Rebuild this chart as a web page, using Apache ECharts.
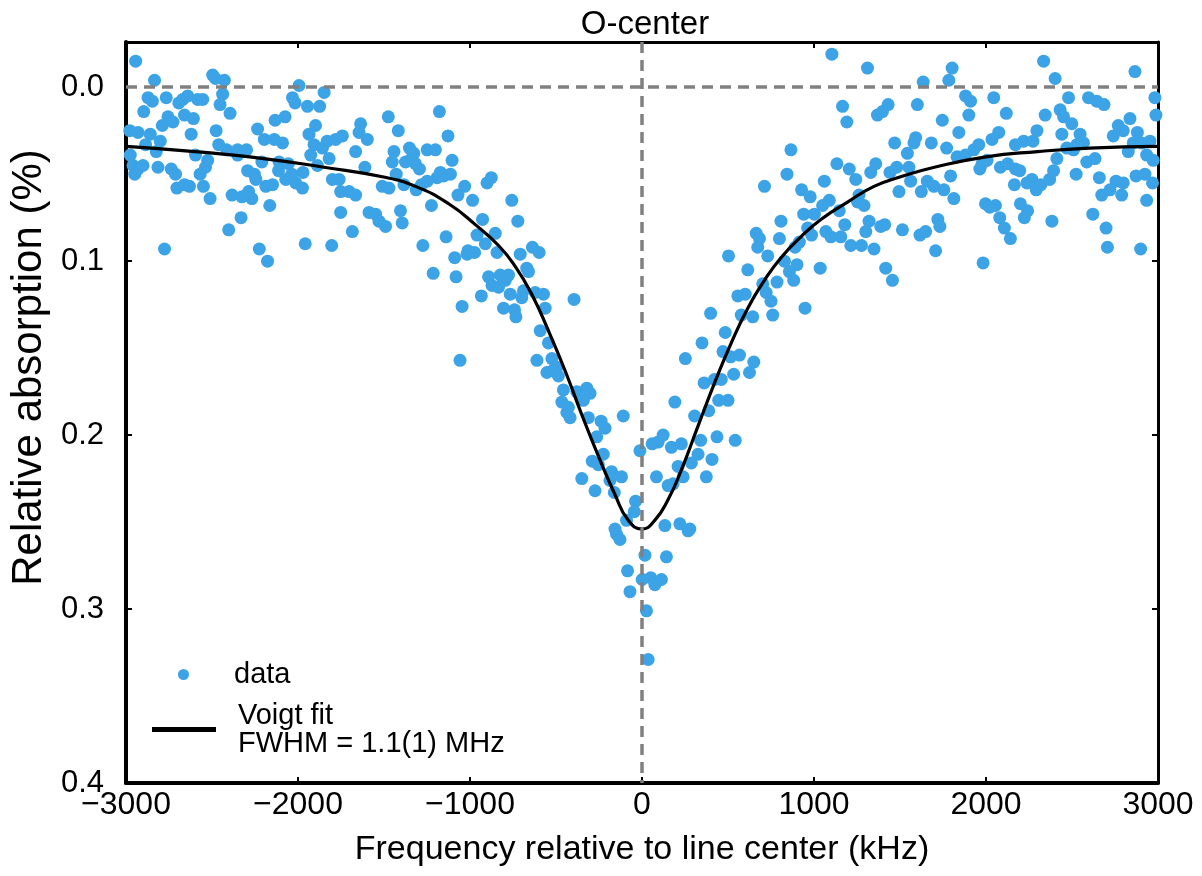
<!DOCTYPE html>
<html>
<head>
<meta charset="utf-8">
<script src="https://cdn.jsdelivr.net/npm/echarts@6/dist/echarts.min.js"></script>
<style>
  html, body { margin: 0; padding: 0; background: #ffffff; }
  #chart { width: 1202px; height: 876px; }
</style>
</head>
<body>
<div id="chart"></div>
<script>
// ---- data ----
var freqKHz = [
 -2944,-2834,-2496,-2480,-2428,-1994,-2872,-2847,-2766,-2693,-2670,-2641,-2583,-2554,-2438,-2453,-2395,-2032,-2017,-1945,
 -1874,-1848,-2897,-2789,-2756,-2727,-2660,-2608,-2621,-2476,-2978,-2930,-2859,-2801,-2886,-2824,-2461,-2415,-2351,-2299,
 -2351,-2235,-2196,-2138,-2090,-2133,-2075,-2975,-2959,-2930,-2901,-2949,-2814,-2737,-2712,-2596,-2525,-2538,-2569,-2704,
 -2660,-2631,-2550,-2511,-2383,-2326,-2287,-2268,-2293,-2254,-2245,-2210,-2187,-2148,-2164,-2113,-2110,-2056,-2071,-2036,
 -2013,-1974,-1971,-1898,-1936,-1907,-1926,-1887,-1858,-1830,-1781,-1742,-1819,-1665,-1636,-1645,-1597,-1611,-1800,-1761,
 -1752,-1703,-1665,-1587,-1549,-1529,-1752,-1684,-1804,-1958,-2331,-2403,-2776,-2225,-2177,
 -1475,-1417,-1178,-1128,-1442,-1352,-1327,-1249,-1201,-1452,-1375,-1340,-1317,-1294,-1429,-1104,-1172,-1153,-1114,-1191,
 -1510,-1471,-1384,-1313,-1282,-1249,-1224,-1070,-1031,-985,-901,-876,-757,-722,-1491,-1404,-1394,-927,-959,-911,
 -853,-1139,-1274,-1089,-1012,-973,-1017,-843,-708,-637,-598,-670,-660,-1214,-1081,-892,-824,-795,-776,-872,
 -834,-766,-689,-621,-573,-699,-934,-1046,-805,-741,-733,-563,-395,-592,-1058,
 -544,-611,-553,-524,-495,-486,-520,-457,-379,-321,-302,-341,-466,-428,-437,-418,-312,-238,-215,-263,
 -109,-225,-289,-254,-177,-186,-119,-350,-273,-161,-37,-45,-12,-90,-157,-148,-128,17,-84,1,
 51,75,113,-70,26,36,142,133,220,268,278,59,94,123,171,229,84,152,181,210,
 239,287,326,341,306,388,436,407,374,542,191,252,349,361,422,461,446,500,471,515,
 567,533,650,625,
 1104,1311,1166,1191,1369,1398,1431,1469,866,1133,1205,1243,1330,1359,1442,1481,843,712,1060,928,
 978,1050,1089,1147,1262,1253,1291,1494,940,1002,808,664,683,673,799,963,986,915,890,1069,
 1098,1156,1179,1214,1276,1349,1320,1388,1411,1301,503,731,828,901,615,857,882,785,1036,702,
 722,750,1417,1456,557,600,577,644,760,948,399,484,
 1635,1784,1803,2335,2402,2866,1601,1881,1910,1900,2045,2118,1746,2480,2596,2644,2686,2982,2988,2344,
 2431,2451,2499,2441,2547,2567,1842,1682,1581,1591,2035,2074,1771,1543,1552,1832,1881,1929,1958,1977,
 1964,2006,2084,2126,2171,2196,2171,2219,2273,2296,2412,2470,2509,2528,2586,2634,2740,2769,2798,2837,
 2880,2856,2905,2953,2934,2972,2827,1659,1697,1755,1624,1562,1794,1813,2165,2238,2267,2292,2319,2370,
 2393,2524,2659,2673,2721,2756,2798,2789,2872,2924,2968,1997,2055,2022,2080,2107,2142,2200,2242,2223,
 2383,2621,2934,2698,2706,2899,1514,1616,1649,1720,1732,1707,1983
];
var absorptionPct = [
 -0.015,-0.004,-0.007,-0.005,-0.004,-0.001,0.006,0.008,0.006,0.009,0.007,0.005,0.007,0.007,0.004,0.010,0.015,0.006,0.009,0.011,
 0.011,0.003,0.014,0.022,0.017,0.020,0.016,0.018,0.027,0.025,0.025,0.026,0.027,0.031,0.033,0.037,0.033,0.036,0.036,0.036,
 0.039,0.024,0.030,0.030,0.032,0.019,0.017,0.039,0.045,0.047,0.045,0.050,0.046,0.047,0.050,0.039,0.042,0.046,0.050,0.058,
 0.056,0.057,0.057,0.064,0.062,0.063,0.060,0.064,0.048,0.050,0.053,0.043,0.057,0.056,0.068,0.048,0.043,0.044,0.053,0.050,
 0.055,0.058,0.049,0.022,0.027,0.033,0.039,0.045,0.035,0.031,0.030,0.028,0.041,0.037,0.021,0.026,0.030,0.046,0.053,0.053,
 0.060,0.060,0.062,0.072,0.073,0.077,0.072,0.083,0.091,0.090,0.075,0.082,0.093,0.093,0.100,
 0.017,0.025,0.014,0.028,0.037,0.035,0.038,0.036,0.036,0.043,0.043,0.041,0.044,0.047,0.050,0.042,0.049,0.051,0.050,0.052,
 0.057,0.058,0.056,0.059,0.056,0.054,0.068,0.062,0.057,0.065,0.055,0.052,0.065,0.077,0.080,0.071,0.078,0.076,0.085,0.090,
 0.084,0.086,0.091,0.098,0.094,0.095,0.096,0.095,0.096,0.092,0.095,0.104,0.106,0.107,0.109,0.109,0.108,0.111,0.108,0.114,
 0.115,0.119,0.117,0.118,0.119,0.121,0.120,0.126,0.127,0.128,0.132,0.127,0.122,0.140,0.157,
 0.147,0.157,0.164,0.156,0.161,0.166,0.163,0.174,0.175,0.173,0.176,0.180,0.181,0.184,0.187,0.190,0.190,0.192,0.196,0.201,
 0.189,0.211,0.215,0.217,0.221,0.226,0.224,0.225,0.232,0.233,0.238,0.244,0.209,0.249,0.254,0.257,0.260,0.269,0.278,0.283,
 0.282,0.286,0.283,0.290,0.301,0.329,0.270,0.252,0.251,0.255,0.254,0.205,0.204,0.200,0.207,0.205,0.224,0.229,0.228,0.218,
 0.224,0.216,0.211,0.203,0.189,0.186,0.201,0.214,0.224,0.203,0.181,0.156,0.147,0.170,0.168,0.168,0.180,0.180,0.152,0.155,
 0.154,0.165,0.158,0.164,
 -0.019,-0.011,0.011,0.020,0.016,0.014,0.010,0.032,0.036,0.044,0.047,0.053,0.049,0.044,0.049,0.046,0.050,0.057,0.054,0.059,
 0.063,0.068,0.065,0.071,0.062,0.066,0.068,0.060,0.073,0.073,0.077,0.084,0.087,0.092,0.087,0.081,0.085,0.089,0.092,0.083,
 0.086,0.086,0.079,0.091,0.091,0.093,0.077,0.080,0.079,0.083,0.097,0.097,0.100,0.102,0.105,0.106,0.111,0.112,0.104,0.113,
 0.118,0.123,0.104,0.111,0.120,0.119,0.131,0.132,0.131,0.127,0.130,0.141,
 -0.003,-0.004,-0.011,-0.015,-0.005,-0.009,0.010,0.005,0.008,0.016,0.006,0.015,0.019,0.006,0.006,0.008,0.010,0.006,0.016,0.016,
 0.013,0.017,0.021,0.027,0.027,0.032,0.026,0.032,0.032,0.029,0.030,0.026,0.035,0.038,0.046,0.040,0.039,0.036,0.033,0.044,
 0.047,0.042,0.046,0.044,0.047,0.048,0.033,0.031,0.031,0.025,0.041,0.035,0.036,0.033,0.043,0.041,0.028,0.022,0.025,0.018,
 0.026,0.032,0.032,0.031,0.039,0.042,0.037,0.054,0.057,0.059,0.060,0.054,0.051,0.064,0.056,0.055,0.053,0.059,0.056,0.053,
 0.048,0.050,0.052,0.062,0.059,0.054,0.055,0.062,0.051,0.050,0.055,0.067,0.068,0.069,0.075,0.081,0.087,0.067,0.071,0.075,
 0.077,0.073,0.065,0.081,0.092,0.093,0.082,0.085,0.083,0.076,0.080,0.094,0.101
];
// Voigt fit curve
var fitFreqKHz = [-3000,-2600,-2200,-1850,-1510,-1317,-1124,-969,-834,-737,-641,-544,-447,-351,-254,-158,-80,0,74,152,229,325,422,519,615,712,808,924,1040,1195,1349,1504,1700,2000,2300,2600,3000];
var fitAbsorptionPct = [0.034,0.037,0.041,0.046,0.0515,0.057,0.067,0.079,0.091,0.103,0.119,0.140,0.163,0.188,0.212,0.234,0.249,0.254,0.249,0.237,0.220,0.195,0.170,0.147,0.127,0.111,0.098,0.086,0.076,0.066,0.057,0.0515,0.046,0.040,0.037,0.035,0.034];
var yTickValues = [0, 0.1, 0.2, 0.3, 0.4];
var xTickInterval = 1000;

var dataName = 'data';
var fitName = 'Voigt fit\nFWHM = 1.1(1) MHz';

var scatterData = freqKHz.map(function (f, i) { return [f, absorptionPct[i]]; });
var fitData = fitFreqKHz.map(function (f, i) { return [f, fitAbsorptionPct[i]]; });

var FONT = '"Liberation Sans", Arial, Helvetica, sans-serif';
var frameLine = { show: true, onZero: false, lineStyle: { color: '#000', width: 3 } };
var innerTick = { show: true, inside: true, length: 6, lineStyle: { color: '#000', width: 2 } };

var chart = echarts.init(document.getElementById('chart'), null, { renderer: 'canvas' });
chart.setOption({
  animation: false,
  backgroundColor: '#ffffff',
  title: {
    text: 'O-center',
    left: 640,
    top: 3,
    textAlign: 'center',
    textStyle: { fontFamily: FONT, fontSize: 33, fontWeight: 'normal', color: '#000' }
  },
  grid: { left: 123, right: 44, top: 42, bottom: 93, containLabel: false },
  legend: [
    {
      data: [{ name: dataName, icon: 'circle' }],
      left: 173, top: 655,
      itemWidth: 11, itemHeight: 11,
      selectedMode: false,
      textStyle: { fontFamily: FONT, fontSize: 29, color: '#000', padding: [0, 0, 0, 40] }
    },
    {
      data: [{ name: fitName, icon: 'rect' }],
      left: 147, top: 696,
      itemWidth: 64, itemHeight: 5,
      selectedMode: false,
      textStyle: { fontFamily: FONT, fontSize: 29, lineHeight: 28, color: '#000', padding: [0, 0, 0, 17] }
    }
  ],
  xAxis: [
    {
      type: 'value', position: 'bottom', min: -3000, max: 3000, interval: xTickInterval,
      axisLine: { show: true, onZero: false, lineStyle: { color: '#000', width: 4 } },
      axisTick: innerTick,
      splitLine: { show: false },
      axisLabel: {
        fontFamily: FONT, fontSize: 32, color: '#000', margin: 6,
        formatter: function (v) { return v < 0 ? '\u2212' + Math.abs(v) : String(v); }
      },
      name: 'Frequency relative to line center (kHz)',
      nameLocation: 'middle', nameGap: 50,
      nameTextStyle: { fontFamily: FONT, fontSize: 34, color: '#000' }
    },
    {
      type: 'value', position: 'top', min: -3000, max: 3000, interval: xTickInterval,
      axisLine: frameLine, axisTick: innerTick,
      splitLine: { show: false }, axisLabel: { show: false }
    }
  ],
  yAxis: [
    {
      type: 'value', position: 'left', min: -0.026, max: 0.4, inverse: true,
      axisLine: { show: true, onZero: false, lineStyle: { color: '#000', width: 4 } },
      axisTick: Object.assign({}, innerTick, { customValues: yTickValues }),
      splitLine: { show: false },
      axisLabel: {
        customValues: yTickValues,
        fontFamily: FONT, fontSize: 31, color: '#000', margin: 22,
        formatter: function (v) { return Number(v).toFixed(1); }
      },
      name: 'Relative absorption (%)',
      nameLocation: 'middle', nameGap: 56, nameRotate: 90,
      nameTextStyle: { fontFamily: FONT, fontSize: 42, color: '#000', padding: [0, 0, 0, 90] }
    },
    {
      type: 'value', position: 'right', min: -0.026, max: 0.4, inverse: true,
      axisLine: frameLine,
      axisTick: Object.assign({}, innerTick, { customValues: yTickValues }),
      splitLine: { show: false },
      axisLabel: { show: false, customValues: yTickValues }
    }
  ],
  series: [
    {
      name: 'refLines', type: 'line', data: [], z: 1,
      xAxisIndex: 0, yAxisIndex: 0,
      markLine: {
        silent: true, symbol: 'none', animation: false,
        label: { show: false },
        lineStyle: { color: '#808080', type: [11, 7], width: 3.5 },
        data: [{ yAxis: 0 }, { xAxis: 0 }]
      }
    },
    {
      name: dataName, type: 'scatter', data: scatterData, z: 3,
      xAxisIndex: 0, yAxisIndex: 0,
      symbol: 'circle', symbolSize: 13,
      itemStyle: { color: '#3ba3e6', opacity: 1 }
    },
    {
      name: fitName, type: 'line', data: fitData, z: 4,
      xAxisIndex: 0, yAxisIndex: 0,
      showSymbol: false, symbol: 'none', smooth: 0.5,
      lineStyle: { color: '#000', width: 3.2 },
      itemStyle: { color: '#000' }
    }
  ]
});
</script>
</body>
</html>
